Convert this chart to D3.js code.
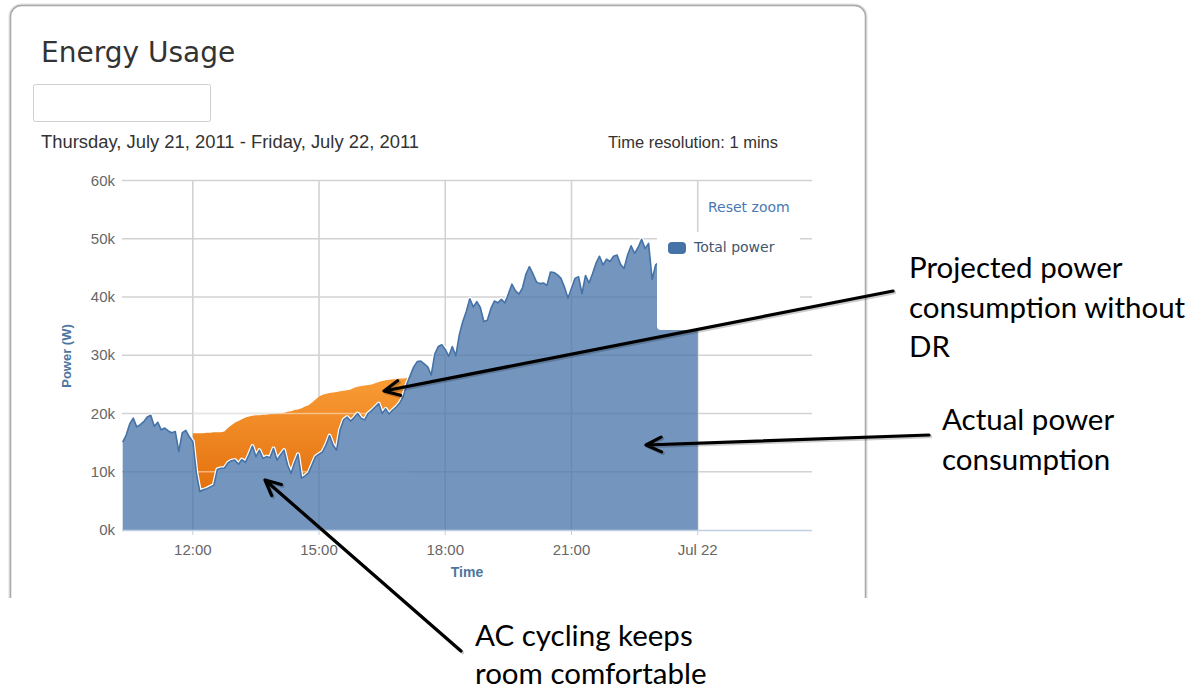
<!DOCTYPE html>
<html>
<head>
<meta charset="utf-8">
<script src="https://cdn.jsdelivr.net/npm/d3@7/dist/d3.min.js"></script>
<style>
  body { margin: 0; background: #fff; }
</style>
</head>
<body>
<div id="chart"></div>
<script>
// series (values in thousands of watts, 5 minute steps)
var actualStart = new Date(2011, 6, 21, 10, 20);
var projectedStart = new Date(2011, 6, 21, 12, 0);
var stepMinutes = 5;

var actualPower = [
  15.1, 16.3, 18.2, 19.2, 17.7, 18.1, 18.6, 19.4, 19.7, 17.8, 18.5, 17.2, 17.5, 17.0, 16.7, 16.9, 13.5, 16.7, 17.1, 16.0,
  15.2, 9.8, 6.6, 6.9, 7.1, 7.4, 7.7, 10.4, 10.6, 10.6, 11.5, 11.9,
  12.0, 11.3, 12.1, 11.6, 12.9, 14.4, 12.6, 13.7, 12.3, 12.6, 12.4, 14.0,
  12.0, 12.9, 13.7, 11.2, 9.7, 11.5, 13.0, 8.9, 9.3, 9.8, 11.2, 12.6,
  13.0, 13.4, 14.6, 16.2, 14.6, 13.7, 17.2, 18.9, 19.4, 18.7, 19.3, 20.0,
  19.2, 18.9, 20.0, 20.5, 21.1, 21.7, 20.0, 20.8, 19.9, 20.6, 21.1, 21.8,
  22.9, 25.0, 26.5, 28.0, 28.9, 29.0, 28.5, 28.0, 26.6, 30.2, 31.5, 31.8,
  31.0, 29.8, 31.5, 29.9, 33.5, 35.8, 37.5, 39.7, 38.3, 39.2, 38.2, 35.8,
  36.0, 38.0, 39.3, 39.0, 39.6, 39.0, 40.5, 42.2, 41.1, 40.5, 41.5, 43.9,
  45.2, 44.0, 42.6, 42.3, 42.4, 42.0, 44.3, 44.2, 43.8, 43.2, 41.7, 39.8,
  41.5, 43.2, 43.5, 40.6, 43.7, 42.4, 44.0, 45.8, 47.0, 45.5, 46.5, 46.1,
  47.0, 47.2, 45.6, 44.9, 47.2, 48.8, 47.5, 48.5, 49.9, 48.3, 49.2, 43.0,
  45.5, 46.0, 47.2, 46.5, 47.8, 48.5, 47.0, 48.2, 49.0, 47.5, 48.4, 46.8, 47.5
];

var projectedPower = [
  16.6, 16.6, 16.6, 16.6, 16.7, 16.7, 16.8, 16.8, 16.8, 16.9, 17.5, 18.0,
  18.4, 18.7, 19.0, 19.3, 19.5, 19.6, 19.7, 19.7, 19.8, 19.8, 19.9, 19.9,
  20.0, 20.0, 20.1, 20.3, 20.4, 20.6, 20.7, 20.9, 21.2, 21.4, 21.9, 22.4,
  22.9, 23.2, 23.4, 23.5, 23.6, 23.7, 23.8, 23.9, 24.0, 24.1, 24.4, 24.6,
  24.7, 24.8, 24.9, 25.0, 25.2, 25.4, 25.6, 25.7, 25.8, 25.9, 25.9, 26.0,
  26.0, 26.1, 26.2
];

var yTicks = [0, 10, 20, 30, 40, 50, 60];
var xTicks = [new Date(2011, 6, 21, 12), new Date(2011, 6, 21, 15), new Date(2011, 6, 21, 18),
              new Date(2011, 6, 21, 21), new Date(2011, 6, 22, 0)];
var xTickLabels = ["12:00", "15:00", "18:00", "21:00", "Jul 22"];
var xDomain = [new Date(2011, 6, 21, 10, 19), new Date(2011, 6, 22, 2, 43)];

var width = 1200, height = 691;
var plot = {left: 122, right: 812, top: 180.5, bottom: 530};

var svg = d3.select("#chart").append("svg")
    .attr("width", width)
    .attr("height", height)
    .style("font-family", "'Liberation Sans', Arial, sans-serif");

var defs = svg.append("defs");
defs.append("clipPath").attr("id", "card-clip")
    .append("rect").attr("x", 0).attr("y", 0).attr("width", width).attr("height", 598);
defs.append("clipPath").attr("id", "plot-clip")
    .append("rect").attr("x", plot.left).attr("y", plot.top - 5)
    .attr("width", plot.right - plot.left).attr("height", plot.bottom - plot.top + 5);

var grad = defs.append("linearGradient").attr("id", "orange-grad")
    .attr("gradientUnits", "userSpaceOnUse")
    .attr("x1", 0).attr("y1", 375).attr("x2", 0).attr("y2", 495);
grad.append("stop").attr("offset", "0%").attr("stop-color", "#f99d37");
grad.append("stop").attr("offset", "100%").attr("stop-color", "#e36f0c");

// card
var card = svg.append("g").attr("clip-path", "url(#card-clip)");
card.append("rect")
    .attr("x", 10.5).attr("y", 5.5).attr("width", 855).attr("height", 640)
    .attr("rx", 11)
    .attr("fill", "none").attr("stroke", "#e2e2e2").attr("stroke-width", 4);
card.append("rect")
    .attr("x", 10.5).attr("y", 5.5).attr("width", 855).attr("height", 640)
    .attr("rx", 11)
    .attr("fill", "#fff").attr("stroke", "#a9a9a9").attr("stroke-width", 1.5);

svg.append("text")
    .attr("x", 41).attr("y", 62)
    .attr("font-family", "'DejaVu Sans', sans-serif")
    .attr("font-size", 28)
    .attr("fill", "#333")
    .text("Energy Usage");

svg.append("rect")
    .attr("x", 33.5).attr("y", 84.5).attr("width", 177).attr("height", 37)
    .attr("rx", 2)
    .attr("fill", "#fff").attr("stroke", "#cfcfcf");

svg.append("text")
    .attr("x", 41).attr("y", 148)
    .attr("font-size", 17.5)
    .attr("fill", "#333")
    .attr("textLength", 378).attr("lengthAdjust", "spacingAndGlyphs")
    .text("Thursday, July 21, 2011 - Friday, July 22, 2011");

svg.append("text")
    .attr("x", 778).attr("y", 148)
    .attr("text-anchor", "end")
    .attr("font-size", 16.5)
    .attr("fill", "#333")
    .text("Time resolution: 1 mins");

// scales
var x = d3.scaleTime().domain(xDomain).range([plot.left, plot.right]);
var y = d3.scaleLinear().domain([0, 60]).range([plot.bottom, plot.top]);

var actualData = actualPower.map((v, i) => ({t: d3.timeMinute.offset(actualStart, i * stepMinutes), v: v}));
var actualByTime = new Map(actualData.map(d => [+d.t, d.v]));
var projectedData = projectedPower.map((v, i) => {
    var t = d3.timeMinute.offset(projectedStart, i * stepMinutes);
    return {t: t, v: v, a: actualByTime.get(+t)};
});

var chart = svg.append("g");

// grid
chart.selectAll(".hgrid")
    .data(yTicks.filter(d => d > 0))
    .enter().append("line")
    .attr("x1", plot.left).attr("x2", plot.right)
    .attr("y1", d => y(d)).attr("y2", d => y(d))
    .attr("stroke", "#d2d2d2").attr("stroke-width", 1.6);

chart.selectAll(".vgrid")
    .data(xTicks)
    .enter().append("line")
    .attr("x1", d => x(d)).attr("x2", d => x(d))
    .attr("y1", plot.top).attr("y2", plot.bottom)
    .attr("stroke", "#d2d2d2").attr("stroke-width", 1.6);

var series = chart.append("g").attr("clip-path", "url(#plot-clip)");

// projected minus actual (orange)
series.append("path")
    .datum(projectedData)
    .attr("d", d3.area()
        .x(d => x(d.t))
        .y0(d => y(Math.min(d.a, d.v)))
        .y1(d => y(d.v)))
    .attr("fill", "url(#orange-grad)");

// orange shows the grid lines faintly
series.selectAll(".ogrid")
    .data(yTicks.filter(d => d > 0 && d < 30))
    .enter().append("line")
    .attr("x1", x(projectedStart)).attr("x2", x(projectedData[projectedData.length - 1].t))
    .attr("y1", d => y(d)).attr("y2", d => y(d))
    .attr("stroke", "#fff").attr("stroke-opacity", 0.45).attr("stroke-width", 1.5);

var lineGen = d3.line().x(d => x(d.t)).y(d => y(d.v));

series.append("path")
    .datum(actualData)
    .attr("d", lineGen)
    .attr("fill", "none")
    .attr("stroke", "#fff").attr("stroke-width", 4).attr("stroke-linejoin", "round");

series.append("path")
    .datum(actualData)
    .attr("d", d3.area().x(d => x(d.t)).y0(y(0)).y1(d => y(d.v)))
    .attr("fill", "#4572a7").attr("fill-opacity", 0.75);

series.append("path")
    .datum(actualData)
    .attr("d", lineGen)
    .attr("fill", "none")
    .attr("stroke", "#4572a7").attr("stroke-width", 1.6).attr("stroke-linejoin", "round");

// x axis
chart.append("line")
    .attr("x1", plot.left).attr("x2", plot.right)
    .attr("y1", plot.bottom + 0.5).attr("y2", plot.bottom + 0.5)
    .attr("stroke", "#c0d0e0").attr("stroke-width", 1.5);

chart.selectAll(".xtick")
    .data(xTicks)
    .enter().append("line")
    .attr("x1", d => x(d)).attr("x2", d => x(d))
    .attr("y1", plot.bottom).attr("y2", plot.bottom + 5)
    .attr("stroke", "#c0d0e0");

chart.selectAll(".xlabel")
    .data(xTicks)
    .enter().append("text")
    .attr("x", d => x(d)).attr("y", 555)
    .attr("text-anchor", "middle")
    .attr("font-size", 15)
    .attr("fill", "#666")
    .text((d, i) => xTickLabels[i]);

chart.append("text")
    .attr("x", 467).attr("y", 577)
    .attr("text-anchor", "middle")
    .attr("font-size", 14).attr("font-weight", "bold")
    .attr("fill", "#4d759e")
    .text("Time");

// y axis
chart.selectAll(".ylabel")
    .data(yTicks)
    .enter().append("text")
    .attr("x", 115).attr("y", d => y(d) + 5)
    .attr("text-anchor", "end")
    .attr("font-size", 15)
    .attr("fill", "#666")
    .text(d => d + "k");

chart.append("text")
    .attr("transform", "translate(71,356) rotate(-90)")
    .attr("text-anchor", "middle")
    .attr("font-size", 13).attr("font-weight", "bold")
    .attr("fill", "#4d759e")
    .text("Power (W)");

// legend box over the plot
chart.append("rect")
    .attr("x", 657).attr("y", 232).attr("width", 143).attr("height", 98)
    .attr("rx", 4)
    .attr("fill", "#fff");

chart.append("rect")
    .attr("x", 668).attr("y", 242).attr("width", 18).attr("height", 12)
    .attr("rx", 4)
    .attr("fill", "#4572a7");

chart.append("text")
    .attr("x", 694).attr("y", 252)
    .attr("font-family", "'DejaVu Sans', sans-serif")
    .attr("font-size", 14)
    .attr("fill", "#3e576f")
    .text("Total power");

chart.append("text")
    .attr("x", 708).attr("y", 212)
    .attr("font-family", "'DejaVu Sans', sans-serif")
    .attr("font-size", 14)
    .attr("fill", "#4a78b0")
    .text("Reset zoom");

// annotations
var notes = svg.append("g")
    .attr("font-family", "Lato, 'Open Sans', sans-serif")
    .attr("font-size", 29.5)
    .attr("fill", "#000");

function arrow(x1, y1, x2, y2) {
    var ang = Math.atan2(y1 - y2, x1 - x2);
    var len = 17, spread = 0.45;
    var head = "M" + (x2 + len * Math.cos(ang + spread)) + "," + (y2 + len * Math.sin(ang + spread)) +
               "L" + x2 + "," + y2 +
               "L" + (x2 + len * Math.cos(ang - spread)) + "," + (y2 + len * Math.sin(ang - spread));
    var shaft = "M" + x1 + "," + y1 + "L" + x2 + "," + y2;
    var g = notes.append("g").attr("fill", "none").attr("stroke-linecap", "round").attr("stroke-linejoin", "round");
    g.append("path").attr("d", shaft + head)
        .attr("transform", "translate(1.5,1.5)")
        .attr("stroke", "#000").attr("stroke-opacity", 0.2).attr("stroke-width", 3.5);
    g.append("path").attr("d", shaft + head)
        .attr("stroke", "#000").attr("stroke-width", 3.2);
}

arrow(893, 291, 384, 391);
arrow(929, 435, 646, 445);
arrow(461, 651, 265, 480);

function note(x0, y0, lines, gap) {
    var t = notes.append("text").attr("x", x0).attr("y", y0);
    lines.forEach((s, i) => {
        t.append("tspan").attr("x", x0).attr("dy", i === 0 ? 0 : gap).text(s);
    });
}

note(909, 278, ["Projected power", "consumption without", "DR"], 39.5);
note(942, 430, ["Actual power", "consumption"], 39.5);
note(475, 646, ["AC cycling keeps", "room comfortable"], 37.5);
</script>
</body>
</html>
